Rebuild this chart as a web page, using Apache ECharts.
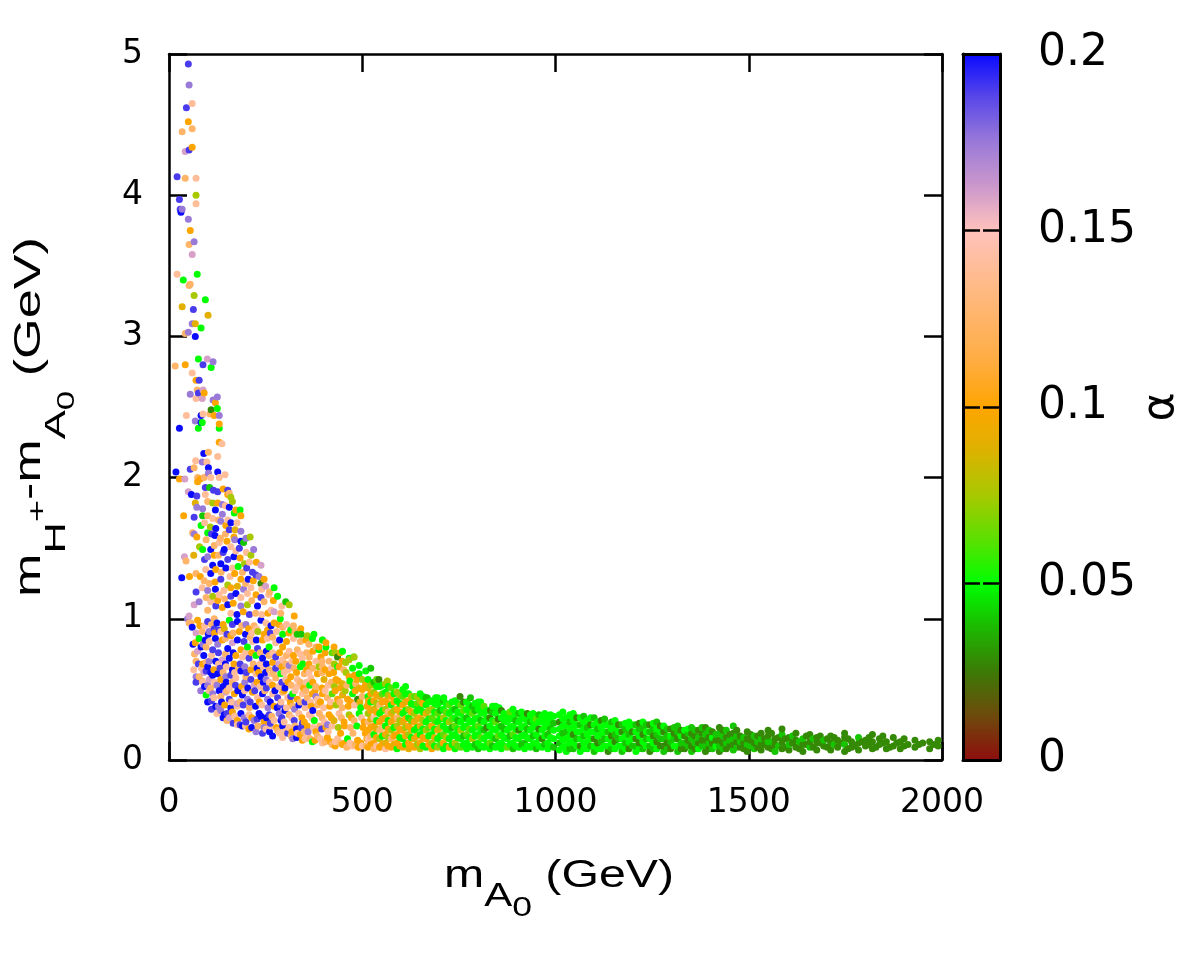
<!DOCTYPE html>
<html><head><meta charset="utf-8">
<script src="https://cdn.jsdelivr.net/npm/echarts@6/dist/echarts.min.js"></script>
<style>html,body{margin:0;padding:0;background:#fff}#c{width:1200px;height:960px}</style>
</head><body><div id="c"></div>
<script>
// [mA0 (GeV), mH+ - mA0 (GeV), alpha]
const spikePts = [[50,4.93,.19],[52,4.78,.175],[60,4.65,.14],[45,4.62,.19],[50,4.52,.1],[60,4.47,.125],[34,4.45,.125],[60,4.34,.1],[52,4.32,.19],[42,4.31,.16],[21,4.13,.19],[42,4.12,.125],[70,4.12,.14],[70,4.0,.075],[27,3.97,.19],[70,3.94,.14],[29,3.9,.19],[34,3.9,.175],[31,3.88,.2],[50,3.83,.175],[55,3.75,.1],[65,3.67,.175],[52,3.65,.125],[60,3.58,.16],[21,3.44,.14],[73,3.44,.05],[37,3.4,.05],[52,3.36,.125],[55,3.37,.125],[65,3.29,.075],[94,3.26,.05],[34,3.21,.09],[63,3.19,.19],[101,3.15,.09],[60,3.09,.175],[68,3.09,.09],[83,3.06,.05],[42,3.02,.125],[50,3.03,.175],[68,3.0,.2],[76,2.84,.05],[99,2.84,.16],[114,2.82,.175],[16,2.79,.125],[42,2.8,.1],[88,2.8,.19],[109,2.78,.05],[60,2.74,.14],[70,2.69,.1],[78,2.69,.19],[55,2.59,.175],[73,2.62,.125],[88,2.62,.16],[76,2.6,.19],[91,2.6,.1],[70,2.56,.14],[86,2.56,.16],[114,2.55,.175],[125,2.57,.175],[120,2.53,.1],[109,2.48,.028],[125,2.49,.05],[88,2.45,.14],[106,2.45,.125],[130,2.44,.175],[45,2.44,.14],[83,2.44,.2],[117,2.44,.1],[68,2.4,.175],[83,2.39,.2],[86,2.39,.05],[27,2.35,.2],[76,2.35,.05],[130,2.35,.05],[130,2.38,.1]];

const upperPts = [[130,2.25,.1],[137,2.24,.14],[90,2.17,.2],[102,2.18,.125],[126,2.15,.14],[69,2.12,.14],[86,2.11,.175],[98,2.11,.14],[55,2.06,.19],[65,2.07,.125],[102,2.07,.2],[126,2.04,.2],[145,2.02,.14],[18,2.04,.2],[27,1.99,.1],[41,1.99,.16],[74,2.0,.125],[81,1.99,.1],[91,2.0,.125],[102,2.03,.175],[130,2.0,.14],[74,1.97,.1],[50,1.9,.16],[58,1.88,.2],[72,1.87,.19],[94,1.93,.19],[105,1.93,.04],[115,1.91,.19],[126,1.9,.19],[152,1.91,.19],[156,1.89,.125],[94,1.88,.14],[160,1.86,.075],[152,1.88,.1],[113,1.82,.075],[126,1.82,.1],[138,1.81,.175],[156,1.79,.2],[164,1.83,.075],[68,1.82,.09],[72,1.79,.175],[87,1.78,.175],[173,1.77,.1],[184,1.77,.05],[186,1.73,.1],[38,1.73,.1],[65,1.72,.19],[87,1.73,.04],[100,1.73,.125],[113,1.71,.14],[138,1.74,.175],[169,1.75,.05],[152,1.7,.14],[134,1.69,.175],[147,1.66,.1],[156,1.63,.19],[171,1.63,.09],[83,1.66,.05],[107,1.65,.075],[121,1.64,.2],[186,1.62,.175],[199,1.57,.175],[210,1.58,.075],[193,1.54,.04],[61,1.61,.125],[72,1.58,.1],[119,1.59,.2],[133,1.57,.125],[65,1.6,.175],[100,1.61,.05],[79,1.51,.075],[87,1.49,.05],[117,1.52,.125],[143,1.49,.2],[160,1.51,.14],[173,1.48,.14],[182,1.5,.19],[219,1.49,.175],[238,1.38,.16],[212,1.45,.075],[40,1.44,.16],[44,1.41,.125],[64,1.45,.09],[100,1.44,.175],[117,1.45,.1],[134,1.39,.2],[152,1.42,.19],[113,1.38,.2],[121,1.35,.1],[147,1.36,.2],[164,1.36,.14],[179,1.37,.05],[195,1.39,.075],[201,1.36,.19],[216,1.33,.19],[205,1.28,.2],[225,1.31,.19],[233,1.3,.175],[33,1.29,.2],[53,1.3,.1],[70,1.32,.125],[81,1.3,.1],[91,1.27,.125],[104,1.25,.125],[119,1.26,.1],[134,1.28,.19],[152,1.24,.075],[186,1.28,.1],[177,1.23,.09],[193,1.21,.175],[212,1.22,.14],[238,1.25,.028],[246,1.28,.1],[250,1.23,.16],[272,1.22,.05],[70,1.19,.19],[96,1.15,.125],[113,1.16,.075],[130,1.17,.14],[160,1.16,.19],[173,1.18,.2],[203,1.18,.14],[225,1.17,.1],[281,1.16,.05],[302,1.12,.04],[311,1.1,.075],[65,1.1,.16],[78,1.12,.175],[100,1.06,.125],[121,1.09,.19],[138,1.08,.1],[152,1.1,.2],[186,1.09,.175],[203,1.1,.075],[229,1.09,.2],[246,1.12,.125],[264,1.06,.14],[289,1.04,.125],[324,1.02,.1],[48,1.0,.175],[52,0.97,.125],[74,0.99,.1],[100,0.98,.19],[117,1.0,.125],[160,1.04,.14],[176,1.03,.2],[192,1.05,.1],[208,1.03,.19],[224,1.04,.125],[240,1.03,.14],[256,1.04,.1],[272,1.05,.16],[288,1.0,.05],
[108,1.12,.14],[126,1.13,.1],[144,1.14,.125],[166,1.11,.1],[186,1.15,.14],[214,1.13,.125],[238,1.15,.19],[258,1.17,.14],[270,1.13,.1],[292,1.09,.14],[120,1.21,.2],[142,1.2,.14],[160,1.22,.1],[198,1.25,.125],[218,1.27,.1],[240,1.21,.14],[260,1.19,.125],[100,1.2,.175],[86,1.22,.14],
[95,1.35,.14],[108,1.32,.2],[135,1.33,.125],[158,1.3,.14],[170,1.32,.1],[190,1.33,.125],[208,1.4,.14],[226,1.4,.1],[92,1.42,.19],[128,1.45,.125],[140,1.47,.19],[168,1.44,.2],[184,1.43,.1],[200,1.47,.14],[108,1.49,.2],[130,1.54,.14],[150,1.55,.1],[170,1.56,.175],[186,1.55,.2],[96,1.56,.125],
[92,1.68,.14],[128,1.7,.125],[160,1.68,.2],[176,1.68,.14],[110,1.6,.19],[146,1.6,.125],[168,1.58,.1],[120,1.77,.2],[100,1.83,.125],[146,1.8,.14],[140,1.92,.1],[108,2.0,.14]];

const corePts = [[52,1.02,.16],[57,0.97,.125],[78,0.86,.05],[83,0.8,.2],[74,0.77,.16],[94,0.85,.2],[104,0.91,.175],[117,0.93,.19],[130,0.92,.19],[143,0.93,.09],[156,0.99,.05],[164,0.96,.19],[177,0.98,.2],[199,0.96,.175],[220,0.95,.125],[238,0.99,.2],[251,0.97,.14],[255,0.92,.1],[272,0.97,.1],[294,0.94,.125],[315,0.92,.05],[332,0.89,.04],[341,0.93,.1],
[96,0.8,.125],[113,0.78,.19],[126,0.82,.175],[138,0.85,.1],[152,0.79,.2],[164,0.83,.16],[177,0.85,.2],[186,0.78,.1],[203,0.8,.05],[216,0.84,.14],[229,0.79,.19],[242,0.85,.1],[259,0.8,.05],[276,0.83,.14],[294,0.8,.1],[311,0.77,.14],[332,0.78,.125],[354,0.85,.1],[371,0.86,.05],[397,0.85,.075],[406,0.8,.05],[380,0.8,.125],[436,0.73,.028],[449,0.77,.05],[466,0.72,.05],[478,0.73,.05],[422,0.76,.062],[393,0.73,.1],[414,0.7,.125],[440,0.66,.1],[457,0.69,.075],[475,0.65,.05],[492,0.61,.05],[500,0.57,.075],[500,0.5,.1],[483,0.54,.125],[466,0.59,.1],[449,0.54,.09],[432,0.57,.1],[414,0.61,.1],[397,0.66,.125],[380,0.7,.14],[363,0.73,.125],[345,0.72,.14],[328,0.7,.1],[311,0.67,.175],[294,0.71,.14],[276,0.73,.19],[259,0.74,.125],[242,0.72,.2],[225,0.74,.05],[207,0.72,.19],[190,0.73,.14],[173,0.74,.1],[156,0.72,.2],[138,0.71,.16],[121,0.7,.2],[104,0.7,.175],[87,0.68,.1],[96,0.63,.19],[78,0.59,.125],[70,0.59,.175],[104,0.57,.16],[113,0.6,.2],[126,0.61,.2],[134,0.57,.1],[147,0.59,.175],[160,0.6,.19],[173,0.58,.14],[186,0.63,.2],[199,0.59,.125],[212,0.57,.19],[225,0.61,.14],[238,0.59,.2],[251,0.57,.175],[264,0.61,.14],[276,0.58,.125],[289,0.61,.05],[302,0.57,.14],[315,0.59,.1],[332,0.57,.14],[350,0.61,.125],[367,0.58,.14],[384,0.61,.1],[401,0.57,.09],
[96,0.46,.05],[100,0.41,.2],[113,0.47,.175],[121,0.38,.2],[134,0.45,.125],[147,0.48,.16],[156,0.43,.19],[169,0.47,.1],[177,0.4,.16],[190,0.46,.2],[203,0.43,.175],[216,0.48,.1],[229,0.44,.14],[242,0.47,.2],[255,0.43,.175],[268,0.47,.14],[281,0.44,.19],[294,0.48,.125],[307,0.44,.14],[320,0.47,.05],[332,0.43,.1],[345,0.47,.14],[358,0.44,.125],[371,0.47,.1],[384,0.43,.14],[397,0.47,.1],[410,0.44,.125],[422,0.47,.062],[436,0.43,.1],[449,0.46,.09],[462,0.43,.1],[475,0.47,.05],[488,0.43,.028],[500,0.45,.125],
[134,0.35,.175],[143,0.32,.2],[156,0.3,.16],[164,0.34,.1],[177,0.28,.1],[186,0.33,.2],[199,0.27,.19],[207,0.32,.14],[220,0.28,.175],[233,0.33,.2],[246,0.27,.1],[259,0.32,.19],[272,0.28,.14],[285,0.33,.175],[298,0.27,.14],[311,0.32,.125],[324,0.28,.19],[336,0.33,.14],[350,0.27,.1],[363,0.32,.14],[376,0.28,.05],[389,0.33,.125],[402,0.27,.14],[414,0.32,.1],[427,0.28,.09],[440,0.33,.14],[453,0.27,.1],[466,0.32,.075],[479,0.28,.125],[492,0.33,.05],[505,0.27,.1],
[177,0.25,.14],[190,0.24,.2],[207,0.22,.1],[225,0.2,.175],[242,0.19,.19],[251,0.22,.14],[268,0.17,.2],[281,0.21,.125],[294,0.16,.14],[307,0.19,.19],[320,0.15,.175],[332,0.19,.14],[345,0.14,.1],[358,0.17,.14],[371,0.13,.05],[384,0.17,.125],[397,0.12,.14],[410,0.16,.1],[422,0.11,.125],[436,0.15,.14],[449,0.11,.1],[462,0.15,.05],[475,0.1,.14],[488,0.14,.1],[500,0.1,.14],
[92,0.52,.2],[108,0.51,.125],[124,0.53,.175],[140,0.52,.2],[156,0.51,.14],[172,0.53,.19],[188,0.52,.1],[204,0.51,.2],[220,0.53,.16],[236,0.52,.14],[252,0.51,.19],[268,0.53,.1],[284,0.52,.14],[300,0.51,.2],[316,0.53,.125],[332,0.52,.14],[348,0.51,.1],[364,0.53,.05],[380,0.52,.125],[396,0.51,.1],[412,0.53,.14],[428,0.52,.075],[444,0.51,.1],[460,0.53,.125],[476,0.52,.05],[492,0.51,.09],[508,0.53,.1],
[128,0.38,.175],[144,0.39,.1],[160,0.37,.2],[176,0.38,.14],[192,0.39,.19],[208,0.37,.125],[224,0.38,.2],[240,0.39,.14],[256,0.37,.175],[272,0.38,.1],[288,0.39,.19],[304,0.37,.14],[320,0.38,.125],[336,0.39,.2],[352,0.37,.14],[368,0.38,.1],[384,0.39,.125],[400,0.37,.14],[416,0.38,.1],[432,0.39,.075],[448,0.37,.125],[464,0.38,.1],[480,0.39,.14],[496,0.37,.05],[512,0.38,.1],
[184,0.25,.19],[198,0.24,.14],[214,0.23,.2],[230,0.24,.125],[246,0.23,.175],[262,0.24,.14],[278,0.23,.1],[294,0.24,.2],[310,0.23,.14],[326,0.24,.125],[342,0.23,.19],[358,0.24,.1],[374,0.23,.14],[390,0.24,.125],[406,0.23,.1],[422,0.24,.14],[438,0.23,.075],[454,0.24,.1],[470,0.23,.125],[486,0.24,.05],[502,0.23,.1],
[84,0.65,.14],[100,0.66,.2],[116,0.64,.1],[132,0.65,.19],[148,0.66,.14],[164,0.64,.2],[180,0.65,.125],[196,0.66,.175],[212,0.64,.1],[228,0.65,.2],[244,0.66,.14],[260,0.64,.125],[276,0.65,.19],[292,0.66,.1],[308,0.64,.14],[324,0.65,.125],[340,0.66,.05],[356,0.64,.1],[372,0.65,.125],[388,0.66,.075],[404,0.64,.1],[420,0.65,.14],[436,0.66,.05],[452,0.64,.125],
[70,0.9,.16],[86,0.91,.125],[102,0.89,.2],[118,0.9,.1],[134,0.91,.14],[150,0.89,.19],[166,0.9,.125],[182,0.91,.1],[198,0.89,.2],[214,0.9,.14],[230,0.91,.075],[246,0.89,.1],[262,0.9,.19],[278,0.91,.14],[294,0.89,.05],[310,0.9,.1],[326,0.91,.125],[342,0.89,.04],[358,0.88,.075],
[430,0.1,.1],[460,0.09,.125],[490,0.09,.1],
[330,0.22,.2],[345,0.26,.19],[360,0.2,.175],[372,0.35,.2],[395,0.22,.19],[300,0.35,.2],[315,0.45,.19],[280,0.37,.2],[262,0.26,.19],[290,0.28,.2],[238,0.31,.2],[325,0.36,.175],[352,0.41,.19],[410,0.25,.175],[380,0.45,.175]];

const coreFill = [[300,0.2,.14],[316,0.17,.125],[330,0.16,.2],[340,0.18,.1],[352,0.15,.14],[365,0.15,.125],[378,0.14,.1],[392,0.15,.14],[404,0.13,.125],[418,0.13,.1],[430,0.13,.14],[444,0.12,.125],[456,0.12,.1],[468,0.12,.14],[482,0.11,.125],[496,0.12,.1],[510,0.1,.125],[512,0.15,.1],[520,0.12,.14],
[260,0.2,.2],[286,0.19,.14],[318,0.2,.1],[350,0.2,.125],[380,0.2,.1],[412,0.2,.14],[444,0.19,.1],[476,0.19,.125],[508,0.19,.1],
[150,0.33,.19],[170,0.31,.14],[194,0.3,.175],[214,0.3,.1],[228,0.29,.19],[252,0.3,.2],[266,0.31,.125],[292,0.3,.19],[318,0.3,.14],[344,0.3,.1],[370,0.3,.14],[396,0.3,.125],[420,0.3,.1],[446,0.3,.125],[472,0.3,.1],[498,0.3,.14],
[110,0.42,.19],[136,0.41,.2],[162,0.41,.14],[184,0.41,.125],[210,0.41,.19],[234,0.41,.1],[262,0.41,.2],[290,0.41,.14],[314,0.41,.1],[340,0.41,.125],[366,0.41,.14],[392,0.41,.1],[418,0.41,.14],[442,0.41,.125],[470,0.41,.1],[494,0.41,.09],[516,0.42,.1],
[82,0.49,.175],[104,0.49,.14],[130,0.49,.2],[150,0.49,.125],[178,0.49,.2],[196,0.49,.14],[222,0.49,.19],[248,0.49,.125],[274,0.49,.2],[298,0.49,.1],[326,0.49,.14],[354,0.49,.125],[378,0.49,.1],[404,0.49,.14],[430,0.49,.1],[456,0.49,.075],[482,0.49,.1],
[70,0.55,.19],[86,0.56,.125],[118,0.55,.14],[148,0.55,.2],[164,0.55,.125],[196,0.55,.175],[228,0.55,.1],[244,0.55,.2],[260,0.55,.14],[292,0.55,.19],[308,0.55,.1],[340,0.55,.125],[356,0.55,.14],[372,0.55,.1],[420,0.55,.125],[438,0.56,.1],[468,0.56,.05],[486,0.57,.1],
[90,0.62,.16],[108,0.62,.2],[140,0.62,.125],[170,0.62,.14],[200,0.62,.19],[232,0.62,.1],[250,0.62,.2],[270,0.62,.125],[298,0.62,.14],[330,0.62,.1],[362,0.62,.14],[396,0.62,.125],[426,0.62,.1],[458,0.62,.075],[480,0.6,.1],
[76,0.68,.19],[96,0.69,.125],[128,0.68,.14],[146,0.68,.2],[168,0.68,.1],[184,0.68,.19],[218,0.68,.125],[236,0.68,.14],[252,0.68,.2],[268,0.69,.1],[284,0.68,.16],[302,0.68,.125],[318,0.7,.14],[346,0.68,.05],[362,0.68,.1],[396,0.7,.125],[428,0.68,.075],[448,0.7,.1],
[66,0.75,.125],[90,0.74,.2],[110,0.74,.14],[128,0.76,.19],[146,0.75,.125],[166,0.76,.2],[198,0.76,.14],[214,0.76,.1],[236,0.76,.125],[252,0.77,.2],[268,0.76,.14],[286,0.76,.1],[304,0.74,.125],[322,0.74,.1],[340,0.75,.14],[356,0.76,.125],[372,0.77,.1],[388,0.78,.05],[404,0.76,.1],[430,0.76,.075],
[68,0.83,.1],[88,0.82,.175],[104,0.84,.14],[120,0.86,.2],[146,0.86,.125],[160,0.88,.1],[194,0.84,.19],[210,0.87,.125],[226,0.85,.2],[254,0.86,.14],[268,0.87,.125],[286,0.85,.2],[304,0.84,.1],[322,0.86,.14],[340,0.84,.125],[362,0.82,.125],[388,0.8,.1],
[60,0.94,.2],[92,0.95,.14],[110,0.96,.125],[124,0.97,.2],[140,0.96,.1],[188,0.95,.125],[206,0.93,.1],[226,0.93,.14],[264,0.95,.2],[284,0.96,.1],[304,0.96,.14],[322,0.95,.125],
[64,0.64,.14],[70,0.7,.125],[62,0.82,.2],[80,0.95,.1],[88,0.55,.14],[100,0.53,.175],[116,0.44,.14],[110,0.36,.19],[124,0.33,.14],[140,0.3,.2],[150,0.28,.125],[166,0.26,.19]];

const midPts = [[375,0.89,.05],[397,0.85,.05],[406,0.83,.1],[427,0.8,.1],[443,0.76,.09],[466,0.71,.075],[479,0.73,.075],[492,0.67,.05],[509,0.63,.05],[522,0.65,.04],[543,0.57,.028],[565,0.56,.075],[587,0.53,.05],[612,0.52,.05],[643,0.45,.075],[668,0.44,.04],[690,0.44,.05],[711,0.44,.05],[753,0.45,.028],[780,0.44,.04],[806,0.41,.05],[832,0.35,.028],[854,0.37,.05],
[515,.09,.1],[515,.15,.14],[515,.21,.1],[515,.27,.125],[515,.33,.075],[515,.39,.1],[515,.45,.05],[515,.51,.09],[515,.57,.05],
[530,.08,.125],[530,.12,.1],[530,.18,.05],[530,.24,.1],[530,.3,.14],[530,.36,.09],[530,.42,.1],[530,.48,.075],[530,.55,.04],
[545,.09,.1],[545,.15,.075],[545,.21,.125],[545,.27,.1],[545,.33,.05],[545,.39,.125],[545,.45,.09],[545,.52,.05],
[560,.08,.14],[560,.12,.09],[560,.18,.1],[560,.24,.05],[560,.3,.1],[560,.36,.075],[560,.42,.1],[560,.48,.05],[560,.54,.075],
[575,.09,.1],[575,.15,.125],[575,.21,.075],[575,.27,.1],[575,.33,.09],[575,.39,.05],[575,.45,.1],[575,.51,.062],
[590,.08,.05],[590,.12,.1],[590,.18,.1],[590,.24,.075],[590,.3,.125],[590,.36,.1],[590,.42,.05],[590,.48,.075],
[605,.09,.1],[605,.15,.05],[605,.21,.1],[605,.27,.09],[605,.33,.05],[605,.39,.1],[605,.45,.062],[605,.5,.05],
[620,.08,.09],[620,.12,.1],[620,.18,.075],[620,.24,.1],[620,.3,.05],[620,.36,.075],[620,.42,.1],[620,.47,.05],
[635,.09,.1],[635,.15,.09],[635,.21,.05],[635,.27,.1],[635,.33,.075],[635,.39,.05],[635,.45,.062],
[650,.08,.075],[650,.12,.1],[650,.18,.05],[650,.24,.09],[650,.3,.1],[650,.36,.05],[650,.42,.075],[650,.47,.05],
[665,.09,.05],[665,.15,.1],[665,.21,.075],[665,.27,.05],[665,.33,.09],[665,.39,.05],[665,.44,.04],
[680,.08,.1],[680,.12,.075],[680,.18,.05],[680,.24,.1],[680,.3,.062],[680,.36,.075],[680,.42,.05],
[695,.09,.075],[695,.15,.05],[695,.21,.09],[695,.27,.05],[695,.33,.062],[695,.39,.05],[695,.44,.05],
[710,.08,.05],[710,.12,.1],[710,.18,.062],[710,.24,.05],[710,.3,.075],[710,.36,.05],[710,.42,.04],
[725,.09,.09],[725,.15,.05],[725,.21,.05],[725,.27,.075],[725,.33,.05],[725,.39,.062],
[740,.08,.05],[740,.12,.075],[740,.18,.05],[740,.24,.062],[740,.3,.05],[740,.36,.04],[740,.42,.05],
[755,.09,.062],[755,.15,.05],[755,.21,.075],[755,.27,.05],[755,.33,.05],[755,.39,.062],
[770,.08,.05],[770,.12,.05],[770,.18,.062],[770,.24,.05],[770,.3,.04],[770,.36,.05],[770,.41,.05],
[785,.09,.05],[785,.15,.075],[785,.21,.05],[785,.27,.05],[785,.33,.062],[785,.38,.04],
[800,.08,.04],[800,.12,.05],[800,.18,.05],[800,.24,.062],[800,.3,.05],[800,.36,.05],[800,.41,.05],
[815,.09,.05],[815,.15,.05],[815,.21,.04],[815,.27,.05],[815,.33,.05],[815,.38,.062],
[830,.08,.05],[830,.12,.062],[830,.18,.05],[830,.24,.05],[830,.3,.028],[830,.35,.05],
[845,.09,.05],[845,.15,.04],[845,.21,.05],[845,.27,.062],[845,.33,.05],[845,.38,.05],
[860,.08,.05],[860,.12,.05],[860,.18,.05],[860,.24,.04],[860,.3,.05],[860,.35,.028],
[875,.09,.062],[875,.15,.05],[875,.21,.05],[875,.27,.05],[875,.32,.05],
[890,.08,.04],[890,.12,.05],[890,.18,.062],[890,.24,.05],[890,.3,.05],[890,.36,.05],
[905,.09,.05],[905,.15,.05],[905,.21,.028],[905,.27,.05],[905,.33,.04],
[920,.08,.05],[920,.12,.04],[920,.18,.05],[920,.24,.05],[920,.3,.05],
[935,.09,.05],[935,.15,.05],[935,.21,.05],[935,.27,.04],[935,.32,.05],
[950,.08,.04],[950,.12,.05],[950,.18,.05],[950,.24,.05],[950,.29,.062],
[965,.09,.05],[965,.15,.028],[965,.21,.05],[965,.27,.05],[965,.31,.05],
[980,.08,.05],[980,.12,.05],[980,.18,.04],[980,.24,.05],[980,.29,.05],
[995,.09,.04],[995,.15,.05],[995,.21,.05],[995,.26,.04],[995,.31,.05]];

const midFill = [[522,.11,.1],[522,.17,.125],[522,.23,.1],[522,.29,.09],[522,.35,.1],[522,.41,.05],[522,.47,.1],[522,.53,.075],
[537,.10,.14],[537,.16,.1],[537,.22,.09],[537,.28,.05],[537,.34,.1],[537,.40,.075],[537,.46,.1],[537,.52,.05],[537,.57,.062],
[552,.11,.1],[552,.17,.05],[552,.23,.125],[552,.29,.1],[552,.35,.05],[552,.41,.1],[552,.47,.062],[552,.53,.05],
[567,.10,.1],[567,.16,.075],[567,.22,.1],[567,.28,.05],[567,.34,.125],[567,.40,.1],[567,.46,.075],[567,.52,.05],
[582,.11,.09],[582,.17,.1],[582,.23,.05],[582,.29,.1],[582,.35,.075],[582,.41,.1],[582,.47,.05],
[597,.10,.1],[597,.16,.05],[597,.22,.1],[597,.28,.075],[597,.34,.1],[597,.40,.05],[597,.46,.075],
[612,.11,.05],[612,.17,.1],[612,.23,.075],[612,.29,.1],[612,.35,.05],[612,.41,.09],[612,.47,.05],
[627,.10,.1],[627,.16,.05],[627,.22,.1],[627,.28,.062],[627,.34,.1],[627,.40,.05],[627,.45,.075],
[642,.11,.075],[642,.17,.1],[642,.23,.05],[642,.29,.09],[642,.35,.05],[642,.40,.062],
[657,.10,.05],[657,.16,.1],[657,.22,.05],[657,.28,.075],[657,.34,.05],[657,.40,.1],[657,.45,.05],
[672,.11,.1],[672,.17,.05],[672,.23,.062],[672,.29,.05],[672,.35,.075],[672,.41,.05],
[687,.10,.05],[687,.16,.09],[687,.22,.05],[687,.28,.062],[687,.34,.05],[687,.40,.05],
[702,.11,.062],[702,.17,.05],[702,.23,.075],[702,.29,.05],[702,.35,.04],[702,.41,.05],
[717,.10,.05],[717,.16,.075],[717,.22,.05],[717,.28,.05],[717,.34,.062],[717,.40,.05],
[732,.11,.05],[732,.17,.05],[732,.23,.04],[732,.29,.062],[732,.35,.05],[732,.41,.05],
[747,.10,.062],[747,.16,.05],[747,.22,.05],[747,.28,.04],[747,.34,.05],[747,.40,.05],
[762,.11,.05],[762,.17,.04],[762,.23,.05],[762,.29,.05],[762,.35,.062],[762,.41,.028],
[777,.10,.05],[777,.16,.05],[777,.22,.062],[777,.28,.05],[777,.34,.05],[777,.39,.05],
[792,.11,.04],[792,.17,.05],[792,.23,.05],[792,.29,.05],[792,.35,.04],[792,.40,.05],
[807,.10,.05],[807,.16,.062],[807,.22,.05],[807,.28,.04],[807,.34,.05],[807,.39,.05],
[822,.11,.05],[822,.17,.05],[822,.23,.028],[822,.29,.05],[822,.35,.05],
[837,.10,.04],[837,.16,.05],[837,.22,.05],[837,.28,.05],[837,.34,.04],[837,.38,.05],
[852,.11,.05],[852,.17,.062],[852,.23,.05],[852,.29,.028],[852,.35,.05],
[867,.10,.05],[867,.16,.05],[867,.22,.04],[867,.28,.05],[867,.33,.05],
[882,.11,.05],[882,.17,.04],[882,.23,.05],[882,.29,.05],[882,.34,.062],
[897,.10,.05],[897,.16,.05],[897,.22,.05],[897,.28,.04],[897,.33,.05],
[912,.11,.04],[912,.17,.05],[912,.23,.05],[912,.29,.05],[912,.34,.05],
[927,.10,.05],[927,.16,.05],[927,.22,.04],[927,.28,.05],[927,.33,.028],
[942,.11,.05],[942,.17,.04],[942,.23,.05],[942,.28,.05],[942,.33,.05],
[957,.10,.05],[957,.16,.05],[957,.22,.028],[957,.27,.05],[957,.32,.04],
[972,.11,.04],[972,.17,.05],[972,.23,.05],[972,.28,.05],[972,.33,.05],
[987,.10,.05],[987,.16,.05],[987,.22,.04],[987,.28,.05],[987,.32,.05]];

const tailPts = [[1010,.07,.05],[1010,.12,.04],[1010,.17,.05],[1010,.22,.05],[1010,.27,.028],[1010,.32,.05],
[1028,.06,.05],[1028,.10,.05],[1028,.15,.05],[1028,.20,.04],[1028,.25,.05],[1028,.30,.05],
[1046,.08,.04],[1046,.13,.05],[1046,.18,.028],[1046,.23,.05],[1046,.28,.05],[1046,.33,.05],
[1064,.06,.05],[1064,.10,.028],[1064,.15,.05],[1064,.20,.05],[1064,.25,.04],[1064,.30,.05],
[1082,.08,.05],[1082,.13,.05],[1082,.18,.05],[1082,.23,.04],[1082,.28,.05],
[1100,.06,.04],[1100,.10,.05],[1100,.15,.028],[1100,.20,.05],[1100,.25,.05],[1100,.30,.04],
[1118,.08,.05],[1118,.13,.04],[1118,.18,.05],[1118,.23,.05],[1118,.28,.028],
[1136,.06,.028],[1136,.10,.05],[1136,.15,.05],[1136,.20,.04],[1136,.25,.05],
[1154,.08,.05],[1154,.13,.028],[1154,.18,.04],[1154,.23,.05],[1154,.28,.05],
[1172,.06,.04],[1172,.10,.05],[1172,.15,.05],[1172,.20,.028],[1172,.25,.04],
[1190,.08,.028],[1190,.13,.05],[1190,.18,.04],[1190,.23,.05],[1190,.27,.05],
[1208,.06,.05],[1208,.10,.04],[1208,.15,.028],[1208,.20,.05],[1208,.25,.04],
[1226,.08,.04],[1226,.13,.05],[1226,.18,.028],[1226,.23,.04],[1226,.27,.05],
[1244,.06,.028],[1244,.10,.04],[1244,.15,.05],[1244,.20,.04],[1244,.25,.028],
[1262,.08,.05],[1262,.13,.028],[1262,.18,.04],[1262,.22,.05],[1262,.27,.04],
[1280,.06,.04],[1280,.10,.028],[1280,.15,.04],[1280,.20,.028],[1280,.24,.05],
[1298,.08,.028],[1298,.13,.04],[1298,.17,.05],[1298,.22,.028],
[1316,.06,.04],[1316,.10,.05],[1316,.15,.028],[1316,.20,.04],[1316,.24,.04],
[1334,.08,.028],[1334,.12,.04],[1334,.17,.028],[1334,.21,.05],
[1352,.06,.04],[1352,.10,.028],[1352,.15,.04],[1352,.19,.028],[1352,.23,.04],
[1370,.08,.05],[1370,.12,.028],[1370,.16,.04],[1370,.21,.028],
[1388,.06,.028],[1388,.10,.04],[1388,.14,.028],[1388,.18,.04],[1388,.23,.028],
[1406,.08,.04],[1406,.12,.028],[1406,.16,.05],[1406,.20,.028],
[1424,.06,.028],[1424,.10,.04],[1424,.14,.028],[1424,.19,.04],[1424,.23,.028],
[1442,.08,.028],[1442,.12,.04],[1442,.16,.028],[1442,.21,.04],
[1460,.07,.04],[1460,.11,.028],[1460,.15,.04],[1460,.19,.028],[1460,.24,.04],
[1478,.09,.028],[1478,.13,.04],[1478,.17,.028],
[1496,.06,.028],[1496,.11,.04],[1496,.15,.028],[1496,.20,.028],
[1514,.08,.04],[1514,.12,.028],[1514,.17,.04],
[1532,.07,.028],[1532,.11,.028],[1532,.15,.04],[1532,.19,.028],
[1550,.09,.028],[1550,.13,.04],[1550,.17,.028],[1550,.21,.028],
[1568,.06,.04],[1568,.11,.028],[1568,.15,.028],
[1586,.08,.028],[1586,.13,.028],[1586,.18,.04],[1586,.22,.028],
[1604,.07,.028],[1604,.11,.04],[1604,.16,.028],
[1622,.09,.028],[1622,.14,.028],[1622,.19,.028],
[1640,.06,.028],[1640,.11,.028],[1640,.15,.04],
[1658,.09,.04],[1658,.13,.028],[1658,.18,.028],
[1676,.07,.028],[1676,.12,.028],[1676,.16,.028],
[1694,.10,.028],[1694,.14,.04],
[1712,.07,.028],[1712,.12,.028],[1712,.17,.028],
[1730,.09,.028],[1730,.14,.028],
[1748,.06,.028],[1748,.11,.04],[1748,.16,.028],[1748,.19,.028],
[1766,.09,.028],[1766,.13,.028],
[1784,.07,.028],[1784,.12,.028],[1784,.16,.04],
[1802,.10,.028],[1802,.14,.028],
[1820,.08,.028],[1820,.13,.028],[1820,.18,.028],
[1838,.11,.028],[1838,.15,.028],
[1856,.08,.028],[1856,.13,.028],
[1874,.10,.028],[1874,.16,.028],
[1892,.08,.028],[1892,.13,.028],
[1912,.11,.028],
[1930,.09,.028],[1930,.14,.028],
[1950,.12,.028],
[1968,.08,.028],[1968,.13,.028],
[1990,.10,.028],[1990,.14,.028]];

const tailFill = [[1019,.09,.05],[1019,.14,.05],[1019,.19,.04],[1019,.24,.05],[1019,.29,.05],[1019,.34,.05],
[1037,.08,.04],[1037,.12,.05],[1037,.17,.05],[1037,.22,.05],[1037,.27,.04],[1037,.32,.05],
[1055,.10,.05],[1055,.15,.04],[1055,.20,.05],[1055,.25,.05],[1055,.30,.028],
[1073,.08,.05],[1073,.12,.05],[1073,.17,.04],[1073,.22,.05],[1073,.27,.05],[1073,.31,.04],
[1091,.10,.04],[1091,.15,.05],[1091,.20,.05],[1091,.25,.028],[1091,.30,.05],
[1109,.08,.05],[1109,.12,.028],[1109,.17,.05],[1109,.22,.04],[1109,.27,.05],
[1127,.10,.05],[1127,.15,.04],[1127,.20,.05],[1127,.25,.05],[1127,.29,.04],
[1145,.08,.04],[1145,.12,.05],[1145,.17,.028],[1145,.22,.05],[1145,.27,.04],
[1163,.10,.05],[1163,.15,.04],[1163,.20,.05],[1163,.25,.028],
[1181,.08,.05],[1181,.12,.04],[1181,.17,.05],[1181,.22,.04],[1181,.26,.05],
[1199,.10,.04],[1199,.15,.05],[1199,.20,.028],[1199,.25,.05],
[1217,.08,.05],[1217,.12,.028],[1217,.17,.05],[1217,.22,.04],[1217,.26,.028],
[1235,.10,.05],[1235,.15,.04],[1235,.20,.05],[1235,.25,.04],
[1253,.08,.04],[1253,.12,.05],[1253,.17,.028],[1253,.22,.04],[1253,.26,.05],
[1271,.10,.028],[1271,.15,.04],[1271,.20,.05],[1271,.24,.028],
[1289,.08,.04],[1289,.12,.028],[1289,.17,.04],[1289,.22,.04],
[1307,.10,.05],[1307,.15,.04],[1307,.19,.028],[1307,.23,.04],
[1325,.08,.028],[1325,.12,.04],[1325,.17,.05],[1325,.21,.028],
[1343,.10,.04],[1343,.14,.028],[1343,.19,.04],[1343,.22,.05],
[1361,.08,.028],[1361,.12,.04],[1361,.17,.028],[1361,.21,.04],
[1379,.10,.04],[1379,.14,.028],[1379,.19,.028],[1379,.23,.04],
[1397,.08,.028],[1397,.12,.04],[1397,.16,.028],[1397,.21,.04],
[1415,.10,.05],[1415,.14,.028],[1415,.18,.04],
[1433,.08,.04],[1433,.12,.028],[1433,.17,.04],[1433,.21,.028],
[1451,.10,.028],[1451,.14,.04],[1451,.18,.028],
[1469,.09,.04],[1469,.13,.028],[1469,.17,.04],[1469,.21,.028],
[1487,.08,.028],[1487,.12,.028],[1487,.16,.04],
[1505,.10,.04],[1505,.14,.028],[1505,.18,.028],
[1523,.09,.028],[1523,.13,.04],[1523,.17,.028],
[1541,.11,.028],[1541,.15,.028],
[1559,.08,.028],[1559,.13,.04],[1559,.19,.028],
[1577,.10,.04],[1577,.16,.028],
[1595,.09,.028],[1595,.15,.028],
[1613,.12,.028],[1613,.17,.04],
[1631,.08,.028],[1631,.13,.04],
[1649,.11,.028],[1649,.17,.028],
[1667,.09,.028],[1667,.15,.04],
[1685,.12,.028],[1685,.17,.028],
[1703,.09,.028],[1703,.15,.028],
[1721,.11,.04],[1721,.16,.028],
[1739,.12,.028],[1757,.08,.028],[1757,.15,.028],[1775,.10,.028],[1793,.13,.028],
[1811,.11,.028],[1811,.16,.028],[1829,.09,.028],[1847,.12,.028],[1847,.17,.028],
[1865,.09,.028],[1883,.12,.028],[1902,.10,.028],[1902,.15,.028],[1940,.11,.028],[1978,.11,.028]];

const paletteStops = ['#8e0e0e','#6e4a0c','#3c7a06','#1cb800','#00ff00','#5ce000','#a8c800','#dcb200','#ffa500','#ffac40','#ffb468','#ffbc90','#ffc2bc','#cc98cc','#9a7ad8','#5a48e8','#0a0aff'];

const data = [].concat(spikePts, upperPts, corePts, coreFill, midPts, midFill, tailPts, tailFill).sort((a, b) => a[0] - b[0]);

const chart = echarts.init(document.getElementById('c'));
const line = {color: '#000', width: 2.5};
const tickFont = {fontFamily: 'DejaVu Sans', fontSize: 33, color: '#000', formatter: v => String(v)};
const T = 'Liberation Sans';
chart.setOption({
  animation: false,
  grid: [
    {left: 169, top: 54, right: 258, bottom: 200},
    {left: 963, top: 54, width: 37, height: 706}
  ],
  xAxis: [
    {gridIndex: 0, type: 'value', min: 0, max: 2000, interval: 500, position: 'bottom',
     axisLine: {onZero: false, lineStyle: line}, axisTick: {inside: true, length: 18, lineStyle: line},
     axisLabel: Object.assign({margin: 27}, tickFont), splitLine: {show: false}},
    {gridIndex: 0, type: 'value', min: 0, max: 2000, interval: 500, position: 'top',
     axisLine: {onZero: false, lineStyle: line}, axisTick: {inside: true, length: 18, lineStyle: line},
     axisLabel: {show: false}, splitLine: {show: false}},
    {gridIndex: 1, type: 'value', min: 0, max: 1, position: 'bottom', z: 10,
     axisLine: {onZero: false, lineStyle: {color: '#000', width: 3}}, axisTick: {show: false},
     axisLabel: {show: false}, splitLine: {show: false}},
    {gridIndex: 1, type: 'value', min: 0, max: 1, position: 'top', z: 10,
     axisLine: {onZero: false, lineStyle: {color: '#000', width: 3}}, axisTick: {show: false},
     axisLabel: {show: false}, splitLine: {show: false}}
  ],
  yAxis: [
    {gridIndex: 0, type: 'value', min: 0, max: 5, interval: 1, position: 'left',
     axisLine: {show: true, onZero: false, lineStyle: line}, axisTick: {show: true, inside: true, length: 18, lineStyle: line},
     axisLabel: Object.assign({margin: 26}, tickFont), splitLine: {show: false}},
    {gridIndex: 0, type: 'value', min: 0, max: 5, interval: 1, position: 'right',
     axisLine: {show: true, onZero: false, lineStyle: line}, axisTick: {show: true, inside: true, length: 18, lineStyle: line},
     axisLabel: {show: false}, splitLine: {show: false}},
    {gridIndex: 1, type: 'value', min: 0, max: 0.2, interval: 0.05, position: 'right', z: 10,
     axisLine: {show: true, onZero: false, lineStyle: {color: '#000', width: 3}},
     axisTick: {show: true, inside: true, length: 17, lineStyle: {color: '#000', width: 2.5}},
     axisLabel: {margin: 38, fontFamily: 'DejaVu Sans', fontSize: 44, color: '#000'},
     splitLine: {show: false},
     name: 'α', nameLocation: 'middle', nameGap: 124, nameRotate: 90,
     nameTextStyle: {fontFamily: 'DejaVu Sans', fontSize: 44, color: '#000'}},
    {gridIndex: 1, type: 'value', min: 0, max: 0.2, interval: 0.05, position: 'left', z: 10,
     axisLine: {show: true, onZero: false, lineStyle: {color: '#000', width: 3}},
     axisTick: {show: true, inside: true, length: 17, lineStyle: {color: '#000', width: 2.5}},
     axisLabel: {show: false}, splitLine: {show: false}}
  ],
  visualMap: {
    type: 'continuous', min: 0, max: 0.2, dimension: 2, seriesIndex: 0,
    calculable: false, hoverLink: false, left: 963, top: 54, padding: 0,
    itemWidth: 37, itemHeight: 706, inRange: {color: paletteStops}
  },
  series: [{
    type: 'scatter', xAxisIndex: 0, yAxisIndex: 0, symbol: 'circle', symbolSize: 7,
    itemStyle: {opacity: 1}, data: data
  }],
  graphic: [
    {type: 'text', x: 559, y: 877, scaleX: 1.27, z: 20,
     style: {text: '{m|m}{a|A}{z|0}{m| (GeV)}', textAlign: 'center', textVerticalAlign: 'middle', fill: '#000',
       rich: {
         m: {fontFamily: T, fontSize: 38, lineHeight: 40, verticalAlign: 'middle', fill: '#000'},
         a: {fontFamily: T, fontSize: 33, lineHeight: 33, padding: [40, 0, 0, 0], verticalAlign: 'middle', fill: '#000'},
         z: {fontFamily: T, fontSize: 28, lineHeight: 28, padding: [63, 0, 0, 0], verticalAlign: 'middle', fill: '#000'}
       }}},
    {type: 'text', x: 30, y: 417, rotation: Math.PI / 2, scaleX: 1.45, z: 20,
     style: {text: '{m|m}{h|H}{p|+}{m|-m}{h|A}{z|0}{m| (GeV)}', textAlign: 'center', textVerticalAlign: 'middle', fill: '#000',
       rich: {
         m: {fontFamily: T, fontSize: 36, lineHeight: 38, verticalAlign: 'middle', fill: '#000'},
         h: {fontFamily: T, fontSize: 30, lineHeight: 30, padding: [54, 0, 0, 0], verticalAlign: 'middle', fill: '#000'},
         p: {fontFamily: T, fontSize: 26, lineHeight: 26, padding: [16, 0, 0, 0], verticalAlign: 'middle', fill: '#000'},
         z: {fontFamily: T, fontSize: 24, lineHeight: 24, padding: [74, 0, 0, 0], verticalAlign: 'middle', fill: '#000'}
       }}}
  ]
});
</script>
</body></html>
